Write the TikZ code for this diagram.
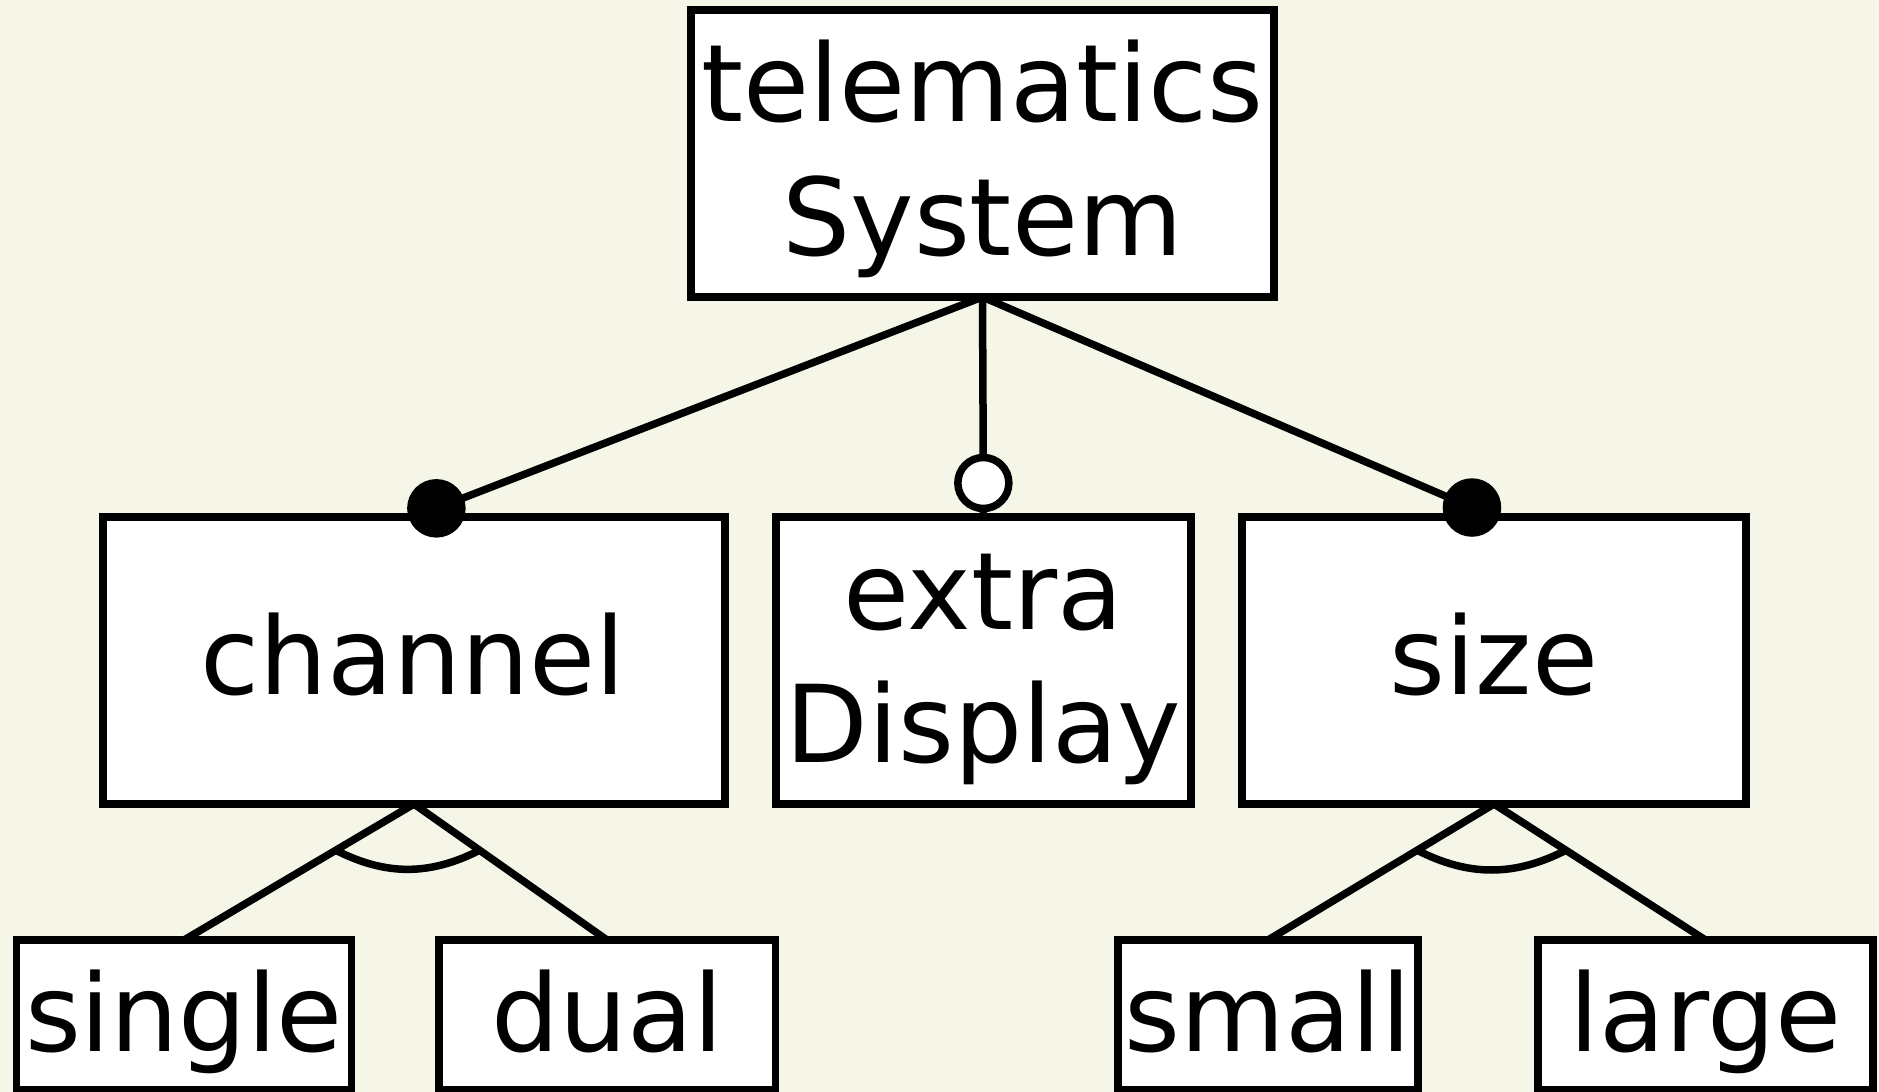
\documentclass[tikz,border=0pt]{standalone}
\usepackage{fontspec}
\setmainfont{DejaVu Sans}
\usetikzlibrary{calc,backgrounds}
\definecolor{bgc}{RGB}{245,246,232}
\begin{document}
\begin{tikzpicture}[x=0.5pt,y=-0.5pt,
  box/.style={draw=black, fill=white, line width=3.75pt, rectangle, inner sep=0pt, outer sep=0pt, minimum height=143.5pt},
  leaf/.style={box, minimum height=75pt},
  lbl/.style={anchor=base, inner sep=0pt, font=\fontsize{53.7pt}{67pt}\selectfont},
  conn/.style={line width=3.75pt, line cap=butt},
  mand/.style={circle, draw=black, fill=black, line width=3.75pt, minimum size=25.5pt, inner sep=0pt},
  opt/.style={mand, fill=white}]
\useasboundingbox (0,0) rectangle (1879,1092);
% boxes
\node[box, minimum width=291.5pt] (top) at (982.5,153.5) {};
\node[box, minimum width=311pt] (channel) at (414,660.5) {};
\node[box, minimum width=207.5pt] (extra) at (983.5,660.5) {};
\node[box, minimum width=252pt] (size) at (1494,660.5) {};
\node[leaf, minimum width=167.5pt] (single) at (184,1015) {};
\node[leaf, minimum width=168.25pt] (dual) at (607,1015) {};
\node[leaf, minimum width=150pt] (small) at (1268,1015) {};
\node[leaf, minimum width=167.5pt] (large) at (1705.5,1015) {};
% labels
\node[lbl] (t1) at (982.5,121) {telematics};
\node[lbl] (t2) at (982.5,255) {System};
\node[lbl] (c1) at (413,694) {channel};
\node[lbl] (e1) at (983.5,629) {extra};
\node[lbl] (e2) at (983.5,762) {Display};
\node[lbl] (s1) at (1494,694) {size};
\node[lbl] (l1) at (184,1051) {single};
\node[lbl] (l2) at (607,1051) {dual};
\node[lbl] (l3) at (1268,1051) {small};
\node[lbl] (l4) at (1705.5,1051) {large};
% connectors under the boxes
\begin{scope}[on background layer]
\fill[bgc] (0,0) rectangle (1879,1092);
\draw[conn] (top.south) -- (channel.north);
\draw[conn] (top.south) -- (extra.north);
\draw[conn] (top.south) -- (size.north);
\draw[conn] (channel.south) -- (single.north);
\draw[conn] (channel.south) -- (dual.north);
\draw[conn] (size.south) -- (small.north);
\draw[conn] (size.south) -- (large.north);
\end{scope}
% feature markers
\node[mand] (mc) at ($(channel.north)!12pt!(top.south)$) {};
\node[opt] (oe) at ($(extra.north)!17pt!(top.south)$) {};
\node[mand] (ms) at ($(size.north)!12pt!(top.south)$) {};
% alternative arcs
\coordinate (a1) at ($(channel.south)!0.34!(single.north)$);
\coordinate (a2) at ($(channel.south)!0.34!(dual.north)$);
\draw[conn] (a1) to[bend right=27] (a2);
\coordinate (b1) at ($(size.south)!0.34!(small.north)$);
\coordinate (b2) at ($(size.south)!0.34!(large.north)$);
\draw[conn] (b1) to[bend right=27] (b2);
\end{tikzpicture}
\end{document}
